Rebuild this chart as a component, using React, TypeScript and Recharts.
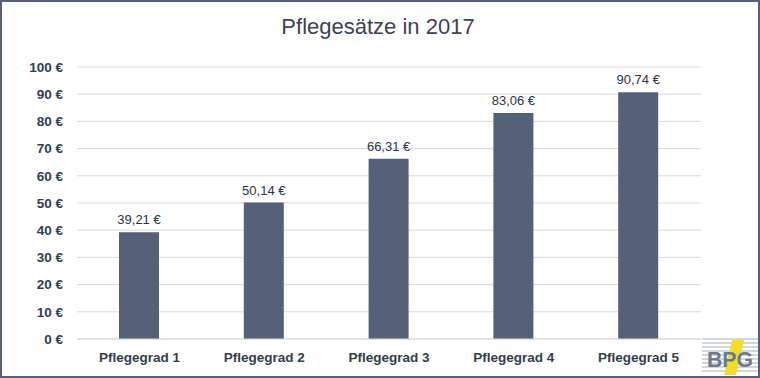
import React from 'react';
import { BarChart, Bar, XAxis, YAxis, CartesianGrid, LabelList } from 'recharts';

const categories = ['Pflegegrad 1', 'Pflegegrad 2', 'Pflegegrad 3', 'Pflegegrad 4', 'Pflegegrad 5'];
const rates = [39.21, 50.14, 66.31, 83.06, 90.74];
const yTicks = [0, 10, 20, 30, 40, 50, 60, 70, 80, 90, 100];

const data = categories.map((name, i) => ({ name, rate: rates[i] }));

const fmtEuro = (v: number) => `${v} €`;
const fmtRate = (v: any) => `${Number(v).toFixed(2).replace('.', ',')} €`;

const FONT = 'Arial, "Liberation Sans", sans-serif';
const TEXT = '#333d50';

// value label above each bar, kept on one line
const RateLabel = (props: any) => {
  const { x, y, width, value } = props;
  return (
    <text
      x={Number(x) + Number(width) / 2}
      y={Number(y) - 8}
      textAnchor="middle"
      fill="#2b3445"
      fontSize={13}
      fontFamily={FONT}
    >
      {fmtRate(value)}
    </text>
  );
};

// small company logo at bottom right
const Logo = () => (
  <svg width={56} height={40} style={{ position: 'absolute', left: 702, top: 336 }}>
    {[3, 7, 11, 15, 19, 23, 27, 31, 35].map((y) => (
      <line key={y} x1={0} x2={56} y1={y} y2={y} stroke="#c4c9d1" strokeWidth={1.5} />
    ))}
    <polygon points="22,39 30,4 42,4 34,39" fill="#f2dd2a" />
    <text x={5} y={31} fontFamily={FONT} fontWeight="bold" fontSize={22} fill="#6c7a8e"
      textLength={46} lengthAdjust="spacingAndGlyphs">BPG</text>
  </svg>
);

const App: React.FC = () => {
  return (
    <div style={{ position: 'absolute', left: 0, top: 0, width: 760, height: 378, background: '#fff', fontFamily: FONT }}>
      <div
        style={{
          position: 'absolute', left: 0, top: 14, width: 756, textAlign: 'center',
          fontSize: 22, lineHeight: '26px', color: '#3a4357',
        }}
      >
        Pflegesätze in 2017
      </div>
      <BarChart
        width={760}
        height={378}
        data={data}
        margin={{ top: 67, right: 59, bottom: 0, left: 0 }}
        barSize={40}
      >
        <CartesianGrid vertical={false} stroke="#d9d9d9" />
        <XAxis
          dataKey="name"
          height={39}
          axisLine={{ stroke: '#d9d9d9' }}
          tickLine={false}
          tickMargin={7}
          tick={{ fill: TEXT, fontSize: 13.5, fontWeight: 'bold', fontFamily: FONT }}
        />
        <YAxis
          width={77}
          domain={[0, 100]}
          ticks={yTicks}
          interval={0}
          axisLine={false}
          tickLine={false}
          tickMargin={8}
          tickFormatter={fmtEuro}
          tick={{ fill: TEXT, fontSize: 13.5, fontWeight: 'bold', fontFamily: FONT }}
        />
        <Bar dataKey="rate" fill="#556079" isAnimationActive={false}>
          <LabelList dataKey="rate" content={RateLabel} />
        </Bar>
      </BarChart>
      <Logo />
      <div
        style={{
          position: 'absolute', left: 0, top: 0, width: 760, height: 378, boxSizing: 'border-box',
          border: '2px solid #56607a', pointerEvents: 'none',
        }}
      />
    </div>
  );
};

export default App;
